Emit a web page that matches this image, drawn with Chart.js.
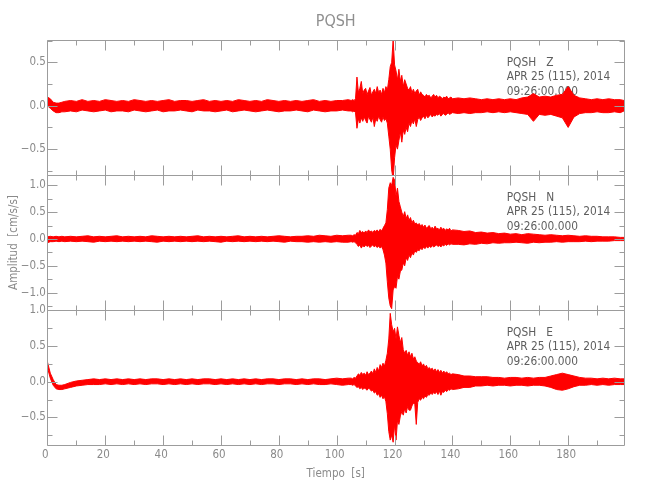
<!DOCTYPE html>
<html>
<head>
<meta charset="utf-8">
<script src="https://cdn.jsdelivr.net/npm/chart.js@4.4.1/dist/chart.umd.min.js"></script>
<style>
html,body{margin:0;padding:0;background:#ffffff;}
#wrap{width:650px;height:500px;}
</style>
</head>
<body>
<div id="wrap"><canvas id="c" width="650" height="500"></canvas></div>
<script>
// ---- sample times (s) ----
const time = [0,1,2,3,4,5,6,
 8,10,12,14,16,18,20,22,24,26,28,30,32,34,36,38,40,42,44,46,48,50,52,54,56,58,60,62,64,66,
 68,70,72,74,76,78,80,82,84,86,88,90,92,94,96,98,100,102,104,
 105,105.5,106,106.5,107,107.5,108,108.5,109,109.5,
 110,110.5,111,111.5,112,112.5,113,113.5,114,114.5,
 115,115.5,116,116.5,117,117.5,118,118.5,119,119.5,
 120,120.5,121,121.5,122,122.5,123,123.5,124,124.5,
 125,125.5,126,126.5,127,127.5,128,128.5,129,129.5,
 130,130.5,131,131.5,132,132.5,133,133.5,134,134.5,
 135,135.5,136,136.5,137,137.5,138,138.5,139,139.5,140,
 142,144,146,148,150,152,154,156,158,160,162,164,166,168,170,172,174,176,178,180,
 182,184,186,188,190,192,194,196,198,199.3];

// ---- Z component envelope (cm/s/s) ----
const zUpper = [0.10,0.08,0.04,0.03,0.03,0.04,0.05,
 0.06,0.05,0.07,0.05,0.06,0.05,0.07,0.06,0.05,0.06,
 0.05,0.07,0.06,0.05,0.06,0.05,0.06,0.07,0.05,0.06,
 0.06,0.05,0.06,0.07,0.05,0.06,0.05,0.06,0.05,0.07,
 0.06,0.05,0.06,0.05,0.07,0.06,0.05,0.06,0.05,0.06,
 0.05,0.06,0.07,0.05,0.06,0.05,0.06,0.06,0.07,
 0.06,0.07,0.06,0.08,0.33,0.15,0.20,0.28,0.14,0.18,
 0.20,0.13,0.17,0.21,0.12,0.16,0.19,0.14,0.22,0.15,
 0.18,0.13,0.20,0.15,0.22,0.18,0.30,0.45,0.50,0.76,
 0.47,0.40,0.30,0.42,0.28,0.35,0.22,0.30,0.25,0.20,
 0.18,0.22,0.15,0.19,0.14,0.17,0.19,0.12,0.16,0.13,
 0.12,0.10,0.13,0.11,0.12,0.09,0.11,0.13,0.10,0.12,
 0.09,0.11,0.10,0.08,0.10,0.09,0.11,0.08,0.09,0.10,0.08,
 0.09,0.08,0.09,0.08,0.07,0.08,0.07,0.08,0.07,0.08,
 0.07,0.09,0.10,0.14,0.10,0.11,0.10,0.12,0.13,0.22,
 0.12,0.09,0.08,0.07,0.08,0.07,0.08,0.07,0.07,0.06];
const zLower = [0.00,-0.03,-0.06,-0.08,-0.08,-0.07,-0.07,
 -0.06,-0.07,-0.05,-0.06,-0.07,-0.06,-0.05,-0.07,-0.06,-0.06,
 -0.07,-0.05,-0.06,-0.07,-0.06,-0.05,-0.07,-0.06,-0.06,-0.05,
 -0.06,-0.07,-0.05,-0.06,-0.06,-0.07,-0.06,-0.05,-0.07,-0.06,
 -0.05,-0.06,-0.07,-0.06,-0.05,-0.06,-0.07,-0.06,-0.06,-0.05,
 -0.06,-0.07,-0.05,-0.06,-0.07,-0.06,-0.06,-0.05,-0.06,
 -0.06,-0.07,-0.06,-0.08,-0.26,-0.15,-0.20,-0.14,-0.18,-0.13,
 -0.17,-0.20,-0.12,-0.16,-0.19,-0.13,-0.24,-0.15,-0.18,-0.12,
 -0.16,-0.19,-0.13,-0.17,-0.15,-0.20,-0.35,-0.50,-0.74,-0.85,
 -0.60,-0.45,-0.50,-0.40,-0.30,-0.42,-0.28,-0.33,-0.25,-0.30,
 -0.20,-0.24,-0.17,-0.21,-0.15,-0.24,-0.16,-0.13,-0.17,-0.14,
 -0.12,-0.15,-0.11,-0.14,-0.12,-0.10,-0.13,-0.11,-0.12,-0.10,
 -0.11,-0.09,-0.12,-0.10,-0.09,-0.11,-0.10,-0.08,-0.10,-0.09,-0.08,
 -0.09,-0.08,-0.09,-0.08,-0.08,-0.07,-0.08,-0.07,-0.08,-0.07,
 -0.08,-0.09,-0.10,-0.18,-0.10,-0.11,-0.10,-0.12,-0.14,-0.25,
 -0.13,-0.09,-0.08,-0.08,-0.07,-0.08,-0.08,-0.07,-0.08,-0.06];

// ---- N component envelope ----
const nUpper = [0.04,0.05,0.04,0.05,0.04,0.05,0.04,
 0.05,0.04,0.05,0.06,0.04,0.05,0.04,0.05,0.06,0.04,
 0.05,0.04,0.05,0.04,0.06,0.05,0.04,0.05,0.04,0.05,
 0.04,0.05,0.06,0.04,0.05,0.04,0.05,0.04,0.05,0.06,
 0.04,0.05,0.04,0.05,0.04,0.05,0.06,0.05,0.04,0.05,
 0.05,0.06,0.05,0.07,0.06,0.05,0.07,0.06,0.07,
 0.07,0.06,0.08,0.07,0.12,0.10,0.16,0.12,0.14,0.11,
 0.15,0.12,0.17,0.13,0.15,0.12,0.16,0.14,0.17,0.13,
 0.18,0.15,0.20,0.25,0.30,0.55,0.95,1.05,1.00,1.15,
 1.10,0.80,0.95,0.70,0.60,0.50,0.42,0.51,0.38,0.45,
 0.35,0.40,0.30,0.35,0.28,0.30,0.26,0.29,0.24,0.27,
 0.22,0.26,0.20,0.23,0.25,0.19,0.22,0.18,0.24,0.19,
 0.20,0.17,0.22,0.18,0.20,0.16,0.19,0.17,0.20,0.15,0.17,
 0.16,0.14,0.15,0.12,0.13,0.11,0.12,0.10,0.11,0.09,
 0.10,0.08,0.10,0.09,0.08,0.07,0.08,0.07,0.06,0.07,
 0.06,0.05,0.06,0.05,0.05,0.04,0.04,0.04,0.03,0.03];
const nLower = [-0.07,-0.05,-0.05,-0.04,-0.05,-0.04,-0.05,
 -0.04,-0.05,-0.04,-0.05,-0.06,-0.04,-0.05,-0.04,-0.05,-0.04,
 -0.05,-0.04,-0.05,-0.04,-0.05,-0.06,-0.04,-0.05,-0.04,-0.05,
 -0.04,-0.05,-0.04,-0.05,-0.04,-0.05,-0.06,-0.04,-0.05,-0.04,
 -0.05,-0.04,-0.05,-0.04,-0.05,-0.04,-0.05,-0.06,-0.04,-0.05,
 -0.05,-0.06,-0.05,-0.06,-0.05,-0.06,-0.05,-0.06,-0.06,
 -0.05,-0.06,-0.05,-0.07,-0.10,-0.14,-0.11,-0.17,-0.12,-0.15,
 -0.11,-0.14,-0.12,-0.16,-0.13,-0.11,-0.15,-0.12,-0.16,-0.13,
 -0.17,-0.14,-0.20,-0.30,-0.45,-0.80,-1.10,-1.25,-1.30,-0.95,
 -0.89,-0.92,-0.70,-0.75,-0.60,-0.58,-0.45,-0.50,-0.35,-0.40,
 -0.30,-0.35,-0.26,-0.30,-0.22,-0.25,-0.20,-0.22,-0.17,-0.20,
 -0.15,-0.18,-0.14,-0.17,-0.13,-0.16,-0.12,-0.15,-0.13,-0.11,
 -0.14,-0.12,-0.15,-0.11,-0.13,-0.10,-0.12,-0.09,-0.11,-0.09,-0.10,
 -0.10,-0.11,-0.09,-0.10,-0.08,-0.09,-0.07,-0.08,-0.07,-0.07,
 -0.06,-0.07,-0.08,-0.06,-0.07,-0.06,-0.06,-0.05,-0.06,-0.05,
 -0.05,-0.05,-0.04,-0.05,-0.04,-0.04,-0.04,-0.03,-0.03,-0.03];

// ---- E component envelope ----
const eUpper = [0.28,0.12,0.03,-0.04,-0.05,-0.05,-0.04,
 -0.01,0.01,0.02,0.03,0.04,0.03,0.04,0.03,0.04,0.03,
 0.04,0.03,0.04,0.03,0.04,0.04,0.03,0.04,0.03,0.04,
 0.03,0.04,0.03,0.04,0.04,0.03,0.04,0.03,0.04,0.03,
 0.04,0.03,0.04,0.03,0.04,0.04,0.03,0.04,0.04,0.03,
 0.04,0.03,0.04,0.04,0.03,0.04,0.05,0.04,0.05,
 0.05,0.04,0.06,0.05,0.08,0.11,0.09,0.13,0.10,0.12,
 0.09,0.14,0.10,0.12,0.15,0.11,0.18,0.13,0.20,0.15,
 0.24,0.20,0.26,0.22,0.30,0.40,0.60,0.96,0.80,0.70,
 0.75,0.60,0.77,0.65,0.55,0.62,0.45,0.40,0.44,0.37,
 0.42,0.35,0.40,0.32,0.35,0.29,0.27,0.24,0.28,0.22,
 0.25,0.20,0.23,0.18,0.20,0.17,0.19,0.15,0.18,0.14,
 0.17,0.13,0.16,0.12,0.15,0.12,0.14,0.11,0.12,0.10,0.11,
 0.10,0.08,0.08,0.07,0.07,0.07,0.06,0.06,0.05,0.06,
 0.06,0.05,0.06,0.05,0.06,0.06,0.08,0.10,0.12,0.10,
 0.08,0.06,0.05,0.05,0.04,0.05,0.04,0.05,0.04,0.04];
const eLower = [0.20,0.05,-0.05,-0.10,-0.11,-0.11,-0.10,
 -0.08,-0.06,-0.05,-0.04,-0.04,-0.04,-0.03,-0.04,-0.03,-0.04,
 -0.03,-0.04,-0.03,-0.04,-0.03,-0.03,-0.04,-0.03,-0.04,-0.03,
 -0.04,-0.03,-0.04,-0.03,-0.03,-0.04,-0.03,-0.04,-0.03,-0.04,
 -0.03,-0.04,-0.03,-0.04,-0.03,-0.03,-0.04,-0.03,-0.03,-0.04,
 -0.03,-0.04,-0.03,-0.04,-0.04,-0.03,-0.04,-0.05,-0.04,
 -0.04,-0.05,-0.04,-0.06,-0.08,-0.07,-0.10,-0.08,-0.11,-0.09,
 -0.10,-0.12,-0.09,-0.11,-0.13,-0.12,-0.16,-0.14,-0.19,-0.17,
 -0.22,-0.19,-0.24,-0.21,-0.28,-0.45,-0.70,-0.82,-0.75,-0.85,
 -0.60,-0.82,-0.55,-0.60,-0.48,-0.42,-0.47,-0.38,-0.44,-0.35,
 -0.40,-0.40,-0.34,-0.30,-0.32,-0.60,-0.29,-0.24,-0.26,-0.22,
 -0.24,-0.20,-0.22,-0.18,-0.19,-0.16,-0.18,-0.15,-0.17,-0.14,
 -0.18,-0.13,-0.19,-0.14,-0.15,-0.12,-0.14,-0.11,-0.12,-0.10,-0.11,
 -0.10,-0.08,-0.08,-0.06,-0.06,-0.05,-0.06,-0.05,-0.05,-0.06,
 -0.05,-0.05,-0.06,-0.05,-0.05,-0.06,-0.08,-0.11,-0.12,-0.10,
 -0.07,-0.05,-0.05,-0.04,-0.05,-0.04,-0.05,-0.04,-0.04,-0.04];

// ---- axis ranges & labels ----
const xRange = [0, 199.3];
const zRange = [-0.798, 0.757];
const nRange = [-1.325, 1.194];
const eRange = [-0.889, 1.007];
const station = 'PQSH';
const components = ['Z', 'N', 'E'];
const dateLine = 'APR 25 (115), 2014';
const startTime = '09:26:00.000';
const xTitle = 'Tiempo  [s]';
const yTitle = 'Amplitud  [cm/s/s]';

// ---- styles ----
const FONT = "'DejaVu Sans Condensed','Liberation Sans Narrow','DejaVu Sans',sans-serif";
const AXIS = '#9c9c9c', TXT = '#8a8a8a', ANN = '#5e5e5e', TRACE = '#ff0000';

const panels = [
  {id: 'yZ', comp: components[0], up: zUpper, lo: zLower, range: zRange, w: 3},
  {id: 'yN', comp: components[1], up: nUpper, lo: nLower, range: nRange, w: 2},
  {id: 'yE', comp: components[2], up: eUpper, lo: eLower, range: eRange, w: 1}
];

function pts(ys) { return time.map((t, i) => ({x: t, y: ys[i]})); }

const datasets = [];
panels.forEach(p => {
  datasets.push({data: pts(p.up), yAxisID: p.id, xAxisID: 'x', borderColor: TRACE, borderWidth: 1,
    pointRadius: 0, fill: false, tension: 0});
  datasets.push({data: pts(p.lo), yAxisID: p.id, xAxisID: 'x', borderColor: TRACE, borderWidth: 1,
    pointRadius: 0, fill: '-1', backgroundColor: TRACE, tension: 0});
});

function fmtY(v) {
  if (Math.abs(v) < 1e-9) v = 0;
  return v.toFixed(1).replace('-', '\u2212');
}

function yScale(p, withTitle) {
  return {
    type: 'linear', position: 'left', stack: 'panels', stackWeight: 1, weight: p.w,
    min: p.range[0], max: p.range[1],
    grid: {display: false, drawTicks: false, tickLength: 0}, border: {display: false},
    ticks: {stepSize: 0.5, includeBounds: false, autoSkip: false, padding: 1.5, color: TXT,
      font: {family: FONT, size: 11.5}, callback: v => fmtY(v)},
    title: withTitle ? {display: true, text: yTitle, color: TXT,
      font: {family: FONT, size: 11.5}, padding: {top: 7, bottom: 0}} : {display: false},
    afterFit: s => { s.width = 47.4; }
  };
}

const scales = {
  x: {
    type: 'linear', position: 'bottom', min: xRange[0], max: xRange[1],
    grid: {display: false, drawTicks: false, tickLength: 0}, border: {display: false},
    ticks: {stepSize: 20, includeBounds: false, autoSkip: false, maxRotation: 0, padding: 3,
      labelOffset: -2, color: TXT, font: {family: FONT, size: 11.5}, callback: v => String(Math.round(v))},
    title: {display: true, text: xTitle, color: TXT, font: {family: FONT, size: 11.5},
      padding: {top: 0, bottom: 19}},
    afterFit: s => { s.height = 55; }
  }
};
panels.forEach((p, i) => { scales[p.id] = yScale(p, i === 1); });

const seismoDecor = {
  id: 'seismoDecor',
  beforeDatasetsDraw(chart) {
    const {ctx, chartArea: ca, scales: sc} = chart;
    ctx.save();
    ctx.fillStyle = ANN;
    ctx.font = '11.8px ' + FONT;
    ctx.textBaseline = 'alphabetic';
    ctx.textAlign = 'left';
    const tx = ca.right - 117.3;
    panels.forEach(p => {
      const s = sc[p.id];
      ctx.fillText(station + '   ' + p.comp, tx, s.top + 26);
      ctx.fillText(dateLine, tx, s.top + 40);
      ctx.fillText(startTime, tx, s.top + 54.5);
    });
    ctx.restore();
  },
  afterDatasetsDraw(chart) {
    const {ctx, chartArea: ca, scales: sc} = chart;
    const xs = sc.x;
    ctx.save();
    ctx.strokeStyle = AXIS;
    ctx.lineWidth = 1;
    const L = Math.round(ca.left) + 0.5, R = Math.round(ca.right) + 0.5;
    panels.forEach(p => {
      const s = sc[p.id];
      const T = Math.round(s.top) + 0.5, B = Math.round(s.bottom) + 0.5;
      ctx.beginPath();
      ctx.rect(L, T, R - L, B - T);
      // x ticks, top and bottom, pointing inward
      for (let v = 0; v <= xRange[1]; v += 10) {
        const px = Math.round(xs.getPixelForValue(v)) + 0.5;
        const len = (v % 20 === 0) ? 10 : 5;
        ctx.moveTo(px, T); ctx.lineTo(px, T + len);
        ctx.moveTo(px, B); ctx.lineTo(px, B - len);
      }
      // y ticks, left and right, pointing inward
      const start = Math.ceil(p.range[0] / 0.25) * 0.25;
      for (let v = start; v <= p.range[1] + 1e-9; v += 0.25) {
        const py = Math.round(s.getPixelForValue(v)) + 0.5;
        const major = Math.abs(v / 0.5 - Math.round(v / 0.5)) < 1e-6;
        const len = major ? 10 : 5;
        ctx.moveTo(L, py); ctx.lineTo(L + len, py);
        ctx.moveTo(R, py); ctx.lineTo(R - len, py);
      }
      ctx.stroke();
    });
    ctx.restore();
  }
};

new Chart(document.getElementById('c'), {
  type: 'line',
  data: {datasets},
  options: {
    responsive: false,
    devicePixelRatio: 1,
    animation: false,
    events: [],
    layout: {padding: {left: 0, right: 26, top: 0, bottom: 0}},
    scales,
    plugins: {
      legend: {display: false},
      tooltip: {enabled: false},
      title: {display: true, text: station, fullSize: false, color: '#8f8f8f',
        font: {family: FONT, size: 16, weight: 'normal', lineHeight: 1.2},
        padding: {top: 12.4, bottom: 8.4}}
    }
  },
  plugins: [seismoDecor]
});
</script>
</body>
</html>
